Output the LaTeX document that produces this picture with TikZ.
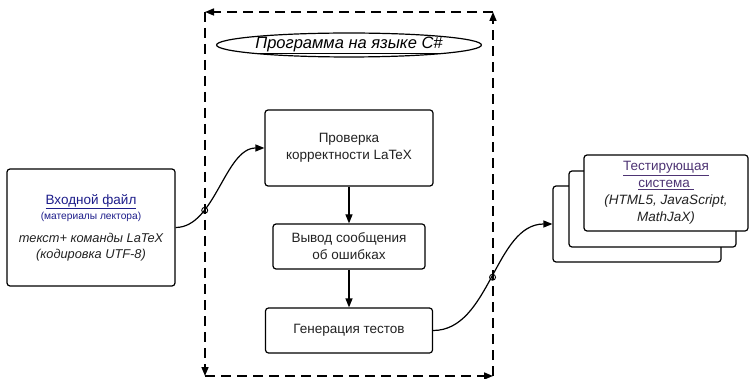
\documentclass[tikz,border=0pt]{standalone}
\usepackage{fontspec}
\setmainfont{Liberation Sans}
\usetikzlibrary{arrows.meta,shapes.geometric}
\definecolor{sinij}{HTML}{1C1C8A}
\definecolor{fiolet}{HTML}{4E3474}
\definecolor{tekst}{HTML}{222222}

\tikzset{
	blok/.style={draw, rounded corners=3pt, line width=1.2pt, fill=white, align=center, text=tekst, font=\fontsize{13.5pt}{17pt}\selectfont},
	strelka/.style={-{Triangle[length=9pt,width=7pt]}, line width=1.2pt},
	ramka/.style={dash pattern=on 10pt off 6pt, line width=1.6pt, -{Triangle[length=9pt,width=7pt]}},
}

\begin{document}
\begin{tikzpicture}[x=1pt,y=-1pt]
		\useasboundingbox (0,0) rectangle (749,379);
		% ramka programmy
		\coordinate (lv) at (205,12);
		\coordinate (pv) at (493,12);
		\coordinate (ln) at (205,376);
		\coordinate (pn) at (493,376);
		\draw[ramka] (pv) -- (lv);
		\draw[ramka] (lv) -- (ln);
		\draw[ramka] (ln) -- (pn);
		\draw[ramka] (pn) -- (pv);
		\node[draw, ellipse, line width=1.2pt, minimum width=258pt, minimum height=21pt, inner sep=0pt, font=\fontsize{16.5pt}{18pt}\selectfont\itshape] (nazv) at (349,45) {\underline{Программа на языке C\#}};
		
		% bloki
		\node[blok, minimum width=168pt, minimum height=117pt] (vhod) at (91,227.5) {{\color{sinij}\fontsize{13.5pt}{16pt}\selectfont\underline{Входной файл}}\\[-2pt]
			{\color{sinij}\fontsize{10.2pt}{12pt}\selectfont (материалы лектора)}\\[6pt]
			{\itshape\fontsize{12.8pt}{15pt}\selectfont текст+ команды LaTeX}\\[-1pt]
			{\itshape\fontsize{12.8pt}{15pt}\selectfont (кодировка UTF-8)}};
		\node[blok, minimum width=168pt, minimum height=76pt] (prov) at (349,148) {Проверка\\корректности LaTeX};
		\node[blok, minimum width=152pt, minimum height=45pt] (vyvod) at (349,246.5) {Вывод сообщения\\об ошибках};
		\node[blok, minimum width=167pt, minimum height=45pt] (gen) at (349,330.5) {Генерация тестов};
		
		% testirujushhaja sistema
		\node[blok, minimum width=168pt, minimum height=76pt] (sis3) at (637,224) {};
		\node[blok, minimum width=167pt, minimum height=76pt] (sis2) at (652.5,209) {};
		\node[blok, minimum width=164pt, minimum height=76pt] (sis1) at (666,193) {{\color{fiolet}\underline{Тестирующая}}\\
			{\color{fiolet}\underline{система\ }}\\
			{\itshape (HTML5, JavaScript,}\\
			{\itshape MathJaX)}};
		
		% svjazi
		\draw[strelka] (vhod.east) .. controls (215,227.5) and (225,148) .. coordinate[pos=0.3] (skachok1) (prov.west);
		\draw[strelka] (prov) -- (vyvod);
		\draw[strelka] (vyvod) -- (gen);
		\draw[strelka] (gen.east) .. controls (490,330.5) and (495,224) .. coordinate[pos=0.5] (skachok2) (sis3.west);
		\draw[line width=0.9pt] (skachok1) circle (3pt);
		\draw[line width=0.9pt] (skachok2) circle (3pt);
		\end{tikzpicture}
\end{document}
